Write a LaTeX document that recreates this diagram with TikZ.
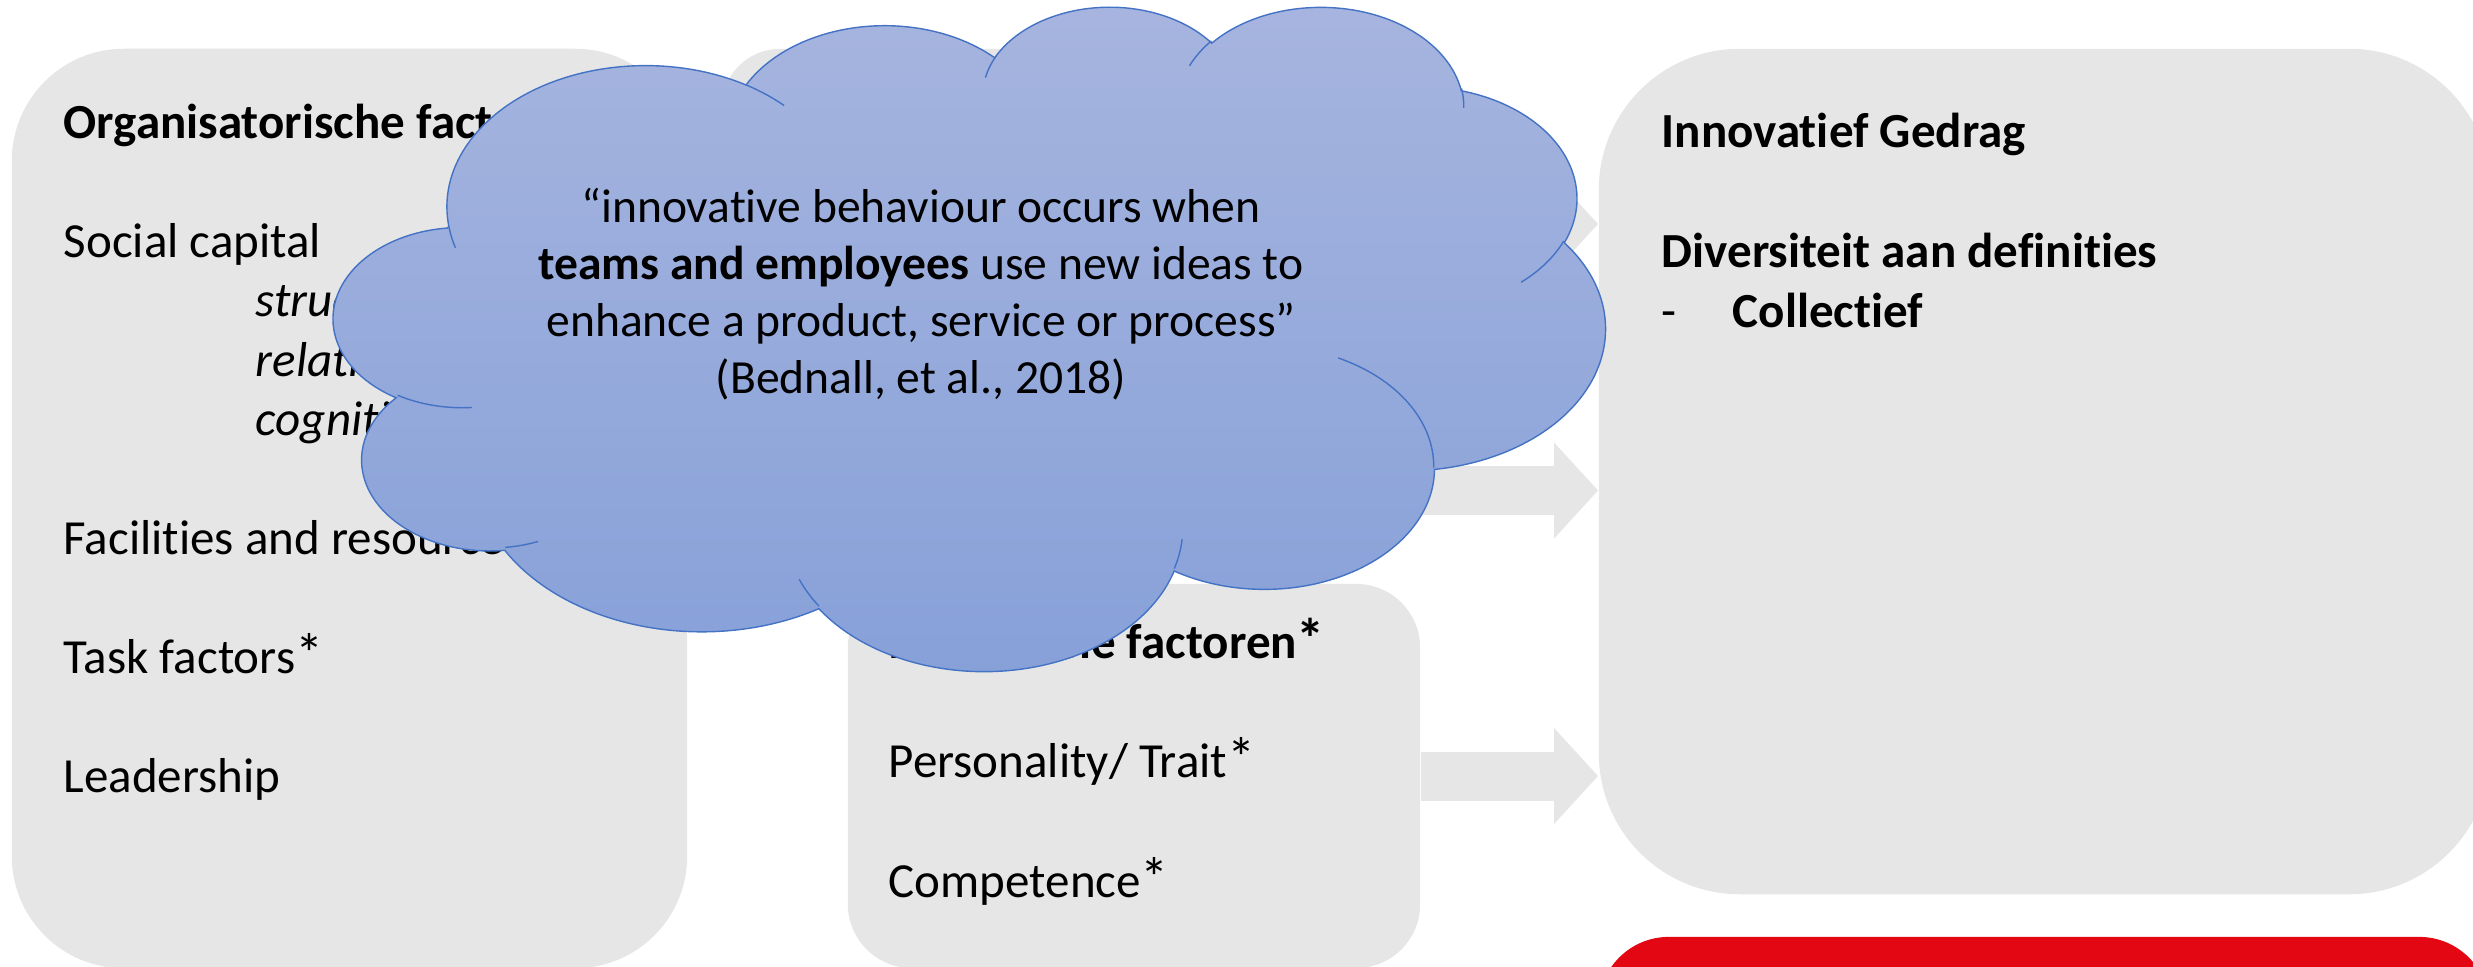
\documentclass[tikz,border=0pt]{standalone}
\usepackage{fontspec}
\setmainfont{Carlito}[Ligatures={NoCommon,NoContextual}]
\usetikzlibrary{positioning}
\usetikzlibrary{arrows.meta}

\definecolor{boxgrey}{HTML}{E6E6E6}
\definecolor{redbar}{HTML}{E30613}
\definecolor{cloudline}{HTML}{4472C4}
\definecolor{cloudtop}{HTML}{A7B5DF}
\definecolor{cloudbot}{HTML}{86A0D8}

\newcommand\starmark{\scalebox{1.15}{*}}

\tikzset{
  box/.style={fill=boxgrey, inner sep=0pt},
  txt/.style={anchor=base west, inner sep=0pt, font=\fontsize{13.94pt}{16.9pt}\selectfont},
  quote/.style={anchor=base, inner sep=0pt, font=\fontsize{13.52pt}{16.2pt}\selectfont},
  blockarrow/.style={draw=boxgrey, line width=0.49cm, -{Triangle[length=0.44cm, width=0.96cm, line width=0pt]}},
  cloudpath/.style={draw=cloudline, line width=0.4pt, top color=cloudtop, bottom color=cloudbot},
}

\begin{document}
\begin{tikzpicture}[x=0.01cm, y=-0.01cm]
\useasboundingbox (0,0) rectangle (2473,966);
% boxes
\node[box, minimum width=6.75cm, minimum height=9.19cm, rounded corners=1.12cm] (org) at (349.5,508.5) {};
\node[box, minimum width=6.98cm, minimum height=3.5cm, rounded corners=0.58cm] (groep) at (1071,224) {};
\node[box, minimum width=5.72cm, minimum height=3.84cm, rounded corners=0.64cm] (indiv) at (1134,776) {};
\node[box, minimum width=8.91cm, minimum height=8.45cm, rounded corners=1.41cm] (innov) at (2044.5,471.5) {};
\node[box, fill=redbar, minimum width=8.9cm, minimum height=4cm, rounded corners=0.7cm] (red) at (2044,1137) {};
% arrows
\coordinate (midstart) at (1420,490.5);
\draw[blockarrow] (groep.east) -- (groep.east -| innov.west);
\draw[blockarrow] (midstart) -- (midstart -| innov.west);
\draw[blockarrow] (indiv.east) -- (indiv.east -| innov.west);
% left box
\node[txt] (orgtitle) at (63,138) {\textbf{Organisatorische factoren}};
\node[txt, below=1.19cm of orgtitle.base west, anchor=base west] (social) {Social capital};
\node[txt, below right=0.595cm and 1.92cm of social.base west, anchor=base west] (struct) {\textit{structural}};
\node[txt, below=0.595cm of struct.base west, anchor=base west] (relat) {\textit{relational}};
\node[txt, below=0.595cm of relat.base west, anchor=base west] (cogn) {\textit{cognitive}};
\node[txt, below=2.975cm of social.base west, anchor=base west] (facil) {Facilities and resources};
\node[txt, below=1.19cm of facil.base west, anchor=base west] (task) {Task factors\starmark};
\node[txt, below=1.19cm of task.base west, anchor=base west] (lead) {Leadership};
% middle box
\node[txt] (indivtitle) at (888,658) {\textbf{Individuele factoren\starmark}};
\node[txt, below=1.195cm of indivtitle.base west, anchor=base west] (trait) {Personality/ Trait\starmark};
\node[txt, below=1.195cm of trait.base west, anchor=base west] (compet) {Competence\starmark};
% right box
\node[txt] (innovtitle) at (1661,147) {\textbf{Innovatief Gedrag}};
\node[txt, below=1.2cm of innovtitle.base west, anchor=base west] (divers) {\textbf{Diversiteit aan definities}};
\node[txt, below=0.6cm of divers.base west, anchor=base west] (dash) {-};
\node[txt, right=0.71cm of dash.base west, anchor=base west] (collect) {\textbf{Collectief}};
% cloud
\begin{scope}[shift={(334,5)}, x=0.029398cm, y=-0.015370cm]
\draw[cloudpath] (39.00,143.70)
  arc[start angle=172.25, end angle=300.37, x radius=67.53, y radius=91.90]
  arc[start angle=-152.02, end angle=-45.43, x radius=53.33, y radius=72.67]
  arc[start angle=-153.49, end angle=-37.33, x radius=43.65, y radius=59.45]
  arc[start angle=-139.70, end angle=-10.21, x radius=48.57, y radius=65.95]
  arc[start angle=-74.77, end angle=23.21, x radius=53.33, y radius=72.73]
  arc[start angle=-37.53, end angle=81.86, x radius=67.75, y radius=92.20]
  arc[start angle=0.46, end angle=121.97, x radius=57.85, y radius=78.67]
  arc[start angle=16.85, end angle=146.26, x radius=67.52, y radius=92.15]
  arc[start angle=58.98, end angle=150.19, x radius=77.20, y radius=105.43]
  arc[start angle=83.31, end angle=223.11, x radius=43.60, y radius=59.18]
  arc[start angle=120.36, end angle=264.11, x radius=43.45, y radius=59.45]
  -- cycle;
% inner arcs
\draw[cloudline, line width=0.4pt]
  (46.93,261.77) arc[start angle=85.55, end angle=120.36, x radius=43.45, y radius=59.45]
  (69.28,348.99) arc[start angle=68.24, end angle=83.31, x radius=43.60, y radius=59.18]
  (164.78,390.90) arc[start angle=146.26, end angle=158.47, x radius=67.52, y radius=92.15]
  (288.27,347.51) arc[start angle=4.74, end angle=16.85, x radius=67.52, y radius=92.15]
  (341.29,229.54) arc[start angle=-64.03, end angle=0.46, x radius=57.85, y radius=78.67]
  (417.98,153.54) arc[start angle=23.21, end angle=49.64, x radius=53.33, y radius=72.73]
  (383.24,54.26) arc[start angle=-10.21, end angle=0.82, x radius=48.57, y radius=65.95]
  (290.78,39.52) arc[start angle=-156.29, end angle=-139.70, x radius=48.57, y radius=65.95]
  (221.41,47.20) arc[start angle=-167.73, end angle=-153.49, x radius=43.65, y radius=59.45]
  (140.00,51.92) arc[start angle=-59.63, end angle=-45.74, x radius=67.53, y radius=91.90]
  (41.27,157.89) arc[start angle=163.19, end angle=172.25, x radius=67.53, y radius=91.90];
\end{scope}
% quote
\node[quote] (q1) at (921,222) {“innovative behaviour occurs when};
\node[quote, below=0.57cm of q1.base, anchor=base] (q2) {\textbf{teams and employees} use new ideas to};
\node[quote, below=0.57cm of q2.base, anchor=base] (q3) {enhance a product, service or process”};
\node[quote, below=0.57cm of q3.base, anchor=base] (q4) {(Bednall, et al., 2018)};
\end{tikzpicture}
\end{document}
